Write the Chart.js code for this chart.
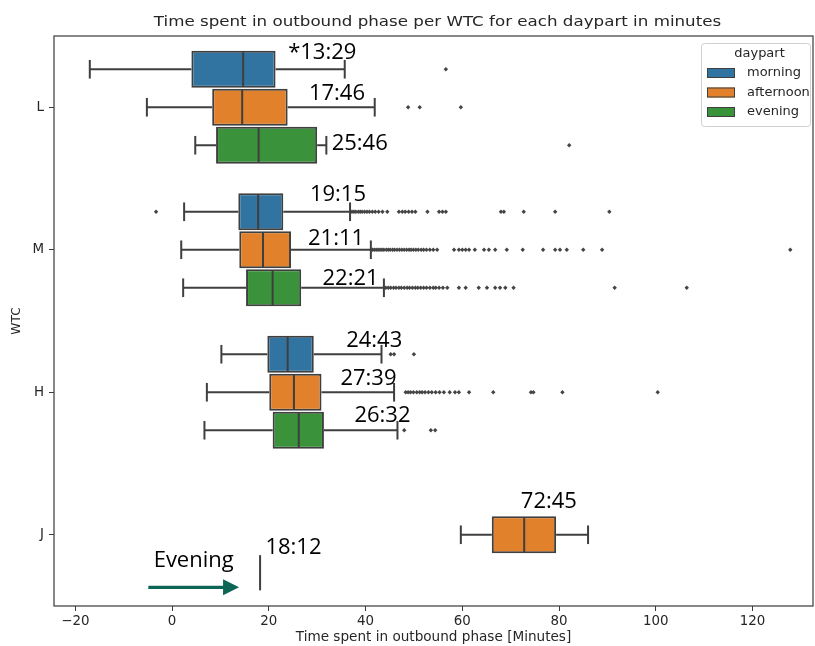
<!DOCTYPE html>
<html>
<head>
<meta charset="utf-8">
<script src="https://cdn.jsdelivr.net/npm/chart.js@4.4.1/dist/chart.umd.min.js"></script>
<style>
  html, body { margin: 0; padding: 0; background: #ffffff; }
  canvas { display: block; }
</style>
</head>
<body>
<canvas id="c" width="815" height="646"></canvas>
<script>
// ---------------- data ----------------
const categories = ['L', 'M', 'H', 'J'];
const dayparts = ['morning', 'afternoon', 'evening'];
const xTickValues = [-20, 0, 20, 40, 60, 80, 100, 120];

// box statistics per WTC (L, M, H, J)
const morningLow  = [-17.0,  2.5, 10.2, null];
const morningQ1   = [  4.0, 13.7, 19.7, null];
const morningMed  = [ 14.7, 17.8, 23.9, null];
const morningQ3   = [ 21.4, 23.0, 29.3, null];
const morningHigh = [ 35.7, 36.8, 43.3, null];

const afternoonLow  = [-5.2,  1.9,  7.2, 59.7];
const afternoonQ1   = [ 8.3, 13.9, 20.1, 66.1];
const afternoonMed  = [14.5, 18.8, 25.2, 72.8];
const afternoonQ3   = [23.9, 24.6, 30.9, 79.4];
const afternoonHigh = [41.9, 41.1, 45.9, 86.0];

const eveningLow  = [ 4.8,  2.3,  6.7, 18.2];
const eveningQ1   = [ 9.1, 15.3, 20.8, 18.2];
const eveningMed  = [17.9, 20.8, 26.2, 18.2];
const eveningQ3   = [30.0, 26.7, 31.4, 18.2];
const eveningHigh = [31.9, 43.8, 46.6, 18.2];

// outliers
const morningOutL = [56.6];
const morningOutM = [-3.3, 37.2, 37.6, 38.0, 38.5, 38.9, 39.3, 39.8, 40.3, 40.8, 41.4, 42.0, 42.7, 43.5, 44.5,
  46.9, 47.6, 48.2, 48.9, 49.6, 50.3, 52.8, 55.2, 55.9, 56.6, 68.0, 68.6, 72.7, 79.2, 90.4];
const morningOutH = [45.2, 45.9, 50.0];

const afternoonOutL = [48.8, 51.2, 59.7];
const afternoonOutM = [41.4, 41.8, 42.2, 42.6, 43.0, 43.4, 43.8, 44.3, 44.7, 45.1, 45.6, 46.0, 46.5, 47.0, 47.5,
  48.0, 48.5, 49.0, 49.4, 49.9, 50.4, 50.9, 51.5, 52.0, 52.6, 53.3, 54.0, 54.8, 58.3, 59.3, 60.0, 60.7, 61.4,
  62.6, 64.5, 65.5, 66.8, 69.2, 72.5, 76.7, 79.2, 80.2, 81.6, 85.0, 88.9, 127.8];
const afternoonOutH = [48.3, 48.8, 49.3, 49.9, 50.6, 51.2, 51.7, 52.3, 53.0, 53.7, 54.5, 55.3, 56.2, 57.4, 58.5,
  59.3, 61.4, 66.4, 74.2, 74.7, 80.7, 100.4];

const eveningOutL = [82.1];
const eveningOutM = [44.2, 44.7, 45.2, 45.8, 46.3, 46.9, 47.4, 48.0, 48.6, 49.1, 49.7, 50.3, 50.8, 51.4, 52.0,
  52.6, 53.3, 54.0, 54.5, 55.2, 56.0, 56.9, 59.3, 60.7, 63.4, 65.1, 66.8, 67.8, 68.9, 70.6, 91.5, 106.4];
const eveningOutH = [48.0, 53.5, 54.4];

// annotations (text, x value in minutes, y in category units from L)
const noteText = ['*13:29', '17:46', '25:46', '19:15', '21:11', '22:21', '24:43', '27:39', '26:32', '72:45', '18:12', 'Evening'];
const noteX    = [24.0, 28.3, 33.0, 28.5, 28.1, 31.1, 36.0, 34.8, 37.7, 72.1, 19.3, -3.8];
const noteY    = [-0.339, -0.051, 0.300, 0.658, 0.967, 1.247, 1.680, 1.949, 2.207, 2.812, 3.135, 3.223];
// arrow (x from, x to, y in category units)
const arrowX = [-4.9, 13.85];
const arrowY = 3.369;

// ---------------- styling ----------------
const fills = ['#3274a1', '#e1812c', '#3a923a'];
const LINE = '#3f3f3f';
const TXT = '#262626';
const stats = {
  morning:   {low: morningLow,   q1: morningQ1,   med: morningMed,   q3: morningQ3,   high: morningHigh,   out: [morningOutL, morningOutM, morningOutH, []]},
  afternoon: {low: afternoonLow, q1: afternoonQ1, med: afternoonMed, q3: afternoonQ3, high: afternoonHigh, out: [afternoonOutL, afternoonOutM, afternoonOutH, []]},
  evening:   {low: eveningLow,   q1: eveningQ1,   med: eveningMed,   q3: eveningQ3,   high: eveningHigh,   out: [eveningOutL, eveningOutM, eveningOutH, []]}
};
const BAND = 0.8 / 3;

Chart.defaults.font.family = "'DejaVu Sans', sans-serif";
Chart.defaults.color = TXT;

const barSets = dayparts.map((d, h) => ({
  label: d,
  data: categories.map((c, i) => (stats[d].q1[i] == null || stats[d].q1[i] === stats[d].q3[i]) ? null : [stats[d].q1[i], stats[d].q3[i]]),
  backgroundColor: fills[h],
  borderColor: LINE,
  borderWidth: 2,
  borderSkipped: false,
  categoryPercentage: 0.8,
  barPercentage: 0.98
}));

const extras = {
  id: 'extras',
  afterDatasetsDraw(chart) {
    const {ctx, chartArea: a, scales: {x, y}} = chart;
    const y0 = y.getPixelForValue(0);
    const step = y.getPixelForValue(1) - y0;
    const yPix = v => y0 + v * step;
    ctx.save();
    ctx.strokeStyle = LINE;
    ctx.fillStyle = '#444444';
    ctx.lineWidth = 2;
    ctx.lineCap = 'butt';
    const seg = (x1, y1, x2, y2) => { ctx.beginPath(); ctx.moveTo(x1, y1); ctx.lineTo(x2, y2); ctx.stroke(); };
    dayparts.forEach((d, h) => {
      const s = stats[d];
      categories.forEach((c, i) => {
        const yc = i + (h - 1) * BAND;
        const yM = yPix(yc);
        // outliers
        ctx.fillStyle = '#444444';
        s.out[i].forEach(v => {
          Chart.helpers.drawPoint(ctx, {pointStyle: 'rectRot', radius: 2.2, borderWidth: 0, rotation: 0}, x.getPixelForValue(v), yM);
        });
        if (s.med[i] == null) return;
        const half = BAND * 0.98 / 2;
        const yT = yPix(yc - half), yB = yPix(yc + half);
        const cT = yPix(yc - half / 2), cB = yPix(yc + half / 2);
        const xl = x.getPixelForValue(s.low[i]), x1 = x.getPixelForValue(s.q1[i]);
        const xm = x.getPixelForValue(s.med[i]);
        const x3 = x.getPixelForValue(s.q3[i]), xh = x.getPixelForValue(s.high[i]);
        if (x1 - xl > 0.5) seg(xl, yM, x1, yM);
        if (xh - x3 > 0.5) seg(x3, yM, xh, yM);
        if (x1 - xl > 0.5) seg(xl, cT, xl, cB);
        if (xh - x3 > 0.5) seg(xh, cT, xh, cB);
        seg(xm, yT + 1, xm, yB - 1);
      });
    });
    // frame (spines)
    ctx.strokeStyle = '#3a3a3a';
    ctx.lineWidth = 1.2;
    ctx.strokeRect(a.left, a.top, a.right - a.left, a.bottom - a.top);

    // annotations
    ctx.fillStyle = '#000000';
    ctx.font = "22px 'Open Sans', sans-serif";
    ctx.textAlign = 'left';
    ctx.textBaseline = 'alphabetic';
    noteText.forEach((t, k) => {
      ctx.fillText(t, x.getPixelForValue(noteX[k]), yPix(noteY[k]));
    });
    // arrow
    const ax1 = x.getPixelForValue(arrowX[0]), ax2 = x.getPixelForValue(arrowX[1]);
    const ay = yPix(arrowY);
    ctx.strokeStyle = '#0b6655';
    ctx.fillStyle = '#0b6655';
    ctx.lineWidth = 3.2;
    seg(ax1, ay, ax2 - 14, ay);
    ctx.beginPath();
    ctx.moveTo(ax2, ay);
    ctx.lineTo(ax2 - 16, ay - 8);
    ctx.lineTo(ax2 - 16, ay + 8);
    ctx.closePath();
    ctx.fill();

    // title (slightly stretched horizontally like the reference)
    ctx.fillStyle = TXT;
    ctx.font = "14.8px 'DejaVu Sans', sans-serif";
    ctx.textAlign = 'center';
    ctx.save();
    ctx.translate((a.left + a.right) / 2 + 4, 25.5);
    ctx.scale(1.128, 1);
    ctx.fillText('Time spent in outbound phase per WTC for each daypart in minutes', 0, 0);
    ctx.restore();

    // legend
    const lx = a.right - 112, ly = a.top + 7, lw = 109, lh = 83;
    ctx.fillStyle = 'rgba(255,255,255,0.85)';
    ctx.strokeStyle = '#d0d0d0';
    ctx.lineWidth = 1;
    ctx.beginPath();
    if (ctx.roundRect) ctx.roundRect(lx + 0.5, ly + 0.5, lw, lh, 3); else ctx.rect(lx + 0.5, ly + 0.5, lw, lh);
    ctx.fill();
    ctx.stroke();
    ctx.fillStyle = TXT;
    ctx.font = "11.6px 'DejaVu Sans', sans-serif";
    ctx.textBaseline = 'middle';
    const stretched = (t, px, py, align) => {
      ctx.save();
      ctx.translate(px, py);
      ctx.scale(1.12, 1);
      ctx.textAlign = align;
      ctx.fillText(t, 0, 0);
      ctx.restore();
    };
    stretched('daypart', lx + lw / 2 + 4, ly + 11, 'center');
    dayparts.forEach((d, h) => {
      const cy = ly + 30 + h * 19.5;
      ctx.fillStyle = fills[h];
      ctx.fillRect(lx + 6, cy - 5, 28, 10);
      ctx.strokeStyle = LINE;
      ctx.lineWidth = 1;
      ctx.strokeRect(lx + 6.5, cy - 4.5, 27, 9);
      ctx.fillStyle = TXT;
      stretched(d, lx + 46, cy, 'left');
    });
    ctx.restore();
  }
};

new Chart(document.getElementById('c'), {
  type: 'bar',
  data: { labels: categories, datasets: barSets },
  options: {
    indexAxis: 'y',
    responsive: false,
    animation: false,
    events: [],
    layout: { padding: { top: 36, right: 2, left: 0, bottom: 0 } },
    plugins: { legend: { display: false }, tooltip: { enabled: false }, title: { display: false } },
    scales: {
      x: {
        type: 'linear',
        position: 'bottom',
        min: -24.4,
        max: 132.5,
        afterFit: s => { s.height = 40; },
        afterBuildTicks: s => { s.ticks = xTickValues.map(v => ({ value: v })); },
        ticks: {
          font: { size: 13.4 },
          color: TXT,
          padding: 2,
          maxRotation: 0,
          callback: v => String(v).replace('-', '\u2212')
        },
        grid: { display: true, drawOnChartArea: false, drawTicks: true, tickLength: 5, tickColor: '#3a3a3a' },
        border: { display: false },
        title: { display: true, text: 'Time spent in outbound phase [Minutes]', font: { size: 13.6 }, color: TXT, padding: { top: 2, bottom: 0 } }
      },
      y: {
        type: 'category',
        position: 'left',
        offset: true,
        afterFit: s => { s.width = 54; },
        ticks: { font: { size: 13.4 }, color: TXT, padding: 5 },
        grid: { display: true, drawOnChartArea: false, drawTicks: true, tickLength: 5, tickColor: '#3a3a3a', offset: false },
        border: { display: false },
        title: { display: true, text: 'WTC', font: { size: 12.2 }, color: TXT, padding: { top: 10, bottom: 0 } }
      }
    }
  },
  plugins: [extras]
});
</script>
</body>
</html>
